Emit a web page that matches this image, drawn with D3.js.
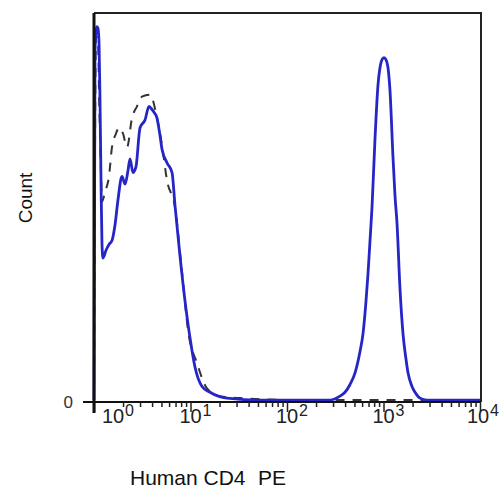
<!DOCTYPE html>
<html>
<head>
<meta charset="utf-8">
<script src="https://cdn.jsdelivr.net/npm/d3@7"></script>
<style>
  html, body { margin: 0; padding: 0; background: #fff; }
  svg { display: block; font-family: "Liberation Sans", Arial, sans-serif; }
</style>
</head>
<body>
<div id="chart"></div>
<script>
var w = 500, h = 488;

// stained sample (blue) - fluorescence intensity and event count
var cd4Intensity = [1.0, 1.024, 1.05, 1.074, 1.10, 1.127, 1.154, 1.182, 1.21, 1.24, 1.332, 1.43, 1.536, 1.651,
	1.773, 1.951, 2.096, 2.251, 2.361, 2.536, 2.724, 2.997, 3.377, 3.715, 3.896, 4.185, 4.497, 4.83,
	5.067, 5.707, 6.433, 6.91, 7.785, 8.77, 9.88, 11.13, 13.16, 15.92, 23.9, 52.5, 136, 279, 354, 399,
	450, 507, 571, 613, 659, 691, 725, 760, 816, 877, 920, 965, 1012, 1061, 1113, 1168, 1254, 1316,
	1380, 1483, 1593, 1711, 1795, 1974, 2121, 2389, 2824, 4889, 10000];
var cd4Count = [1, 180, 191, 193, 192, 185, 155, 114, 81, 74, 78, 81, 83, 91,
	104, 116, 112, 119, 125, 118, 121, 141, 145, 152, 151, 149, 146, 137,
	130, 123, 118, 101, 75, 52, 33, 18, 8, 5, 2, 1, 1, 1, 3, 5,
	9, 15, 26, 35, 52, 66, 83, 100, 135, 163, 172, 176, 177, 176, 172, 160, 126, 106,
	92, 58, 35, 22, 15, 8, 5, 2, 1, 1, 1];

// isotype control (dashed)
var isoIntensity = [1.0, 1.049, 1.10, 1.127, 1.182, 1.21, 1.3, 1.43, 1.536, 1.69, 1.815, 1.998, 2.198,
	2.476, 2.79, 3.144, 3.805, 4.497, 5.067, 5.707, 6.91, 8.16, 9.42, 11.68, 14.83, 20.2, 32.6, 136, 10000];
var isoCount = [1, 188, 186, 160, 118, 103, 108, 116, 131, 138, 141, 138, 131,
	146, 152, 157, 158, 146, 132, 114, 100, 67, 37, 20, 7, 3, 2, 1, 1];

var decades = [0, 1, 2, 3, 4];
var minorSteps = [2, 3, 4, 5, 6, 7, 8, 9];

var x = d3.scaleLog().domain([1, 10000]).range([94, 480]);
var y = d3.scaleLinear().domain([0, 200]).range([402, 13]);

var svg = d3.select('#chart').append('svg')
	.attr('width', w)
	.attr('height', h);

// frame (top and right)
svg.append('path')
	.attr('d', 'M' + x(1) + ',' + y(200) + 'H' + (x(10000) + 1) + 'V' + y(0))
	.attr('fill', 'none')
	.attr('stroke', '#222')
	.attr('stroke-width', 2);

// curves
var line = d3.line()
	.curve(d3.curveMonotoneX)
	.x(function(d) { return x(d[0]); })
	.y(function(d) { return y(d[1]); });

var isoData = isoIntensity.map(function(v, i) { return [v, isoCount[i]]; });
var cd4Data = cd4Intensity.map(function(v, i) { return [v, cd4Count[i]]; });

svg.append('path')
	.datum(isoData)
	.attr('fill', 'none')
	.attr('stroke', '#333')
	.attr('stroke-width', 2)
	.attr('stroke-dasharray', '9,8')
	.attr('d', line);

svg.append('path')
	.datum(cd4Data)
	.attr('fill', 'none')
	.attr('stroke', '#2626c8')
	.attr('stroke-width', 2.8)
	.attr('stroke-linejoin', 'round')
	.attr('d', line);

// x axis with log ticks
var tickVals = [];
decades.forEach(function(e) {
	tickVals.push(Math.pow(10, e));
	if (e < 4) minorSteps.forEach(function(m) { tickVals.push(m * Math.pow(10, e)); });
});

var xAxis = svg.append('g')
	.attr('transform', 'translate(0,' + y(0) + ')')
	.call(d3.axisBottom(x).tickValues(tickVals).tickFormat('').tickSizeOuter(0));

xAxis.select('.domain')
	.attr('d', 'M83,0H' + (x(10000) + 1))
	.attr('stroke', '#111')
	.attr('stroke-width', 2);

xAxis.selectAll('.tick line')
	.attr('stroke', '#222')
	.attr('stroke-width', 1.5)
	.attr('y2', function(d) {
		return Math.abs(Math.log10(d) - Math.round(Math.log10(d))) < 1e-9 ? 10 : 5;
	});

// decade labels 10^n
var labels = svg.append('g').attr('fill', '#222');
decades.forEach(function(e, i) {
	var shift = i === 0 ? 19 : (i === decades.length - 1 ? -2 : 0);
	var cx = x(Math.pow(10, e)) + shift;
	labels.append('text')
		.attr('x', cx)
		.attr('y', 423)
		.attr('text-anchor', 'middle')
		.attr('font-size', 20)
		.text('10');
	labels.append('text')
		.attr('x', cx + 12)
		.attr('y', 416)
		.attr('font-size', 16)
		.text(e);
});

// y axis
svg.append('line')
	.attr('x1', x(1)).attr('x2', x(1))
	.attr('y1', y(200)).attr('y2', 413)
	.attr('stroke', '#111')
	.attr('stroke-width', 3);

svg.append('line')
	.attr('x1', 85).attr('x2', x(1))
	.attr('y1', y(0)).attr('y2', y(0))
	.attr('stroke', '#111')
	.attr('stroke-width', 1.5);

svg.append('text')
	.attr('x', 73)
	.attr('y', 408)
	.attr('text-anchor', 'end')
	.attr('font-size', 17)
	.attr('fill', '#333')
	.text('0');

// axis titles
svg.append('text')
	.attr('transform', 'translate(32,198) rotate(-90)')
	.attr('text-anchor', 'middle')
	.attr('font-size', 19)
	.attr('fill', '#111')
	.text('Count');

var xt = svg.append('text')
	.attr('y', 485)
	.attr('font-size', 21)
	.attr('fill', '#111');
xt.append('tspan').attr('x', 130).text('Human CD4');
xt.append('tspan').attr('x', 258).text('PE');
</script>
</body>
</html>
